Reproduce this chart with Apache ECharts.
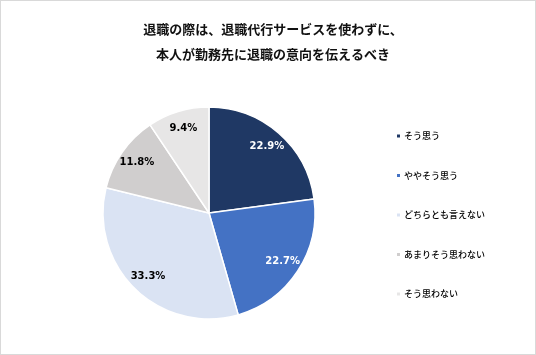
<!DOCTYPE html>
<html><head><meta charset="utf-8">
<script src="https://cdn.jsdelivr.net/npm/echarts@6/dist/echarts.min.js"></script>
<style>html,body{margin:0;padding:0;background:#fff}#c{width:536px;height:355px;box-sizing:border-box;border:1px solid #d9d9d9}</style>
</head><body><div id="c"></div>
<script>
const titleText = '退職の際は、退職代行サービスを使わずに、\n本人が勤務先に退職の意向を伝えるべき';
const categories = ['そう思う', 'ややそう思う', 'どちらとも言えない', 'あまりそう思わない', 'そう思わない'];
const values = [22.9, 22.7, 33.3, 11.8, 9.4];
const colors = ['#1f3864', '#4472c4', '#dae3f3', '#d0cece', '#e7e6e6'];
const labelColors = ['#ffffff', '#ffffff', '#000000', '#000000', '#000000'];

const chart = echarts.init(document.getElementById('c'), null, {renderer: 'canvas'});
const mainData = categories.map((n, i) => ({name: n, value: values[i], itemStyle: {color: colors[i]}}));
const labelData = categories.map((n, i) => ({name: n, value: values[i], label: {color: labelColors[i]}}));
chart.setOption({
  animation: false,
  title: {
    text: titleText, left: 267, top: 11, textAlign: 'center',
    textStyle: {fontFamily: 'Noto Sans CJK JP', fontWeight: 'bold', fontSize: 13, lineHeight: 25, color: '#111111'}
  },
  legend: {
    orient: 'vertical', left: 394, top: 129, padding: 0, icon: 'rect', itemWidth: 5, itemHeight: 5, itemGap: 27.5,
    data: categories,
    textStyle: {fontFamily: 'Noto Sans CJK JP', fontSize: 9, fontWeight: 500, lineHeight: 12, color: '#000000', padding: [0, 0, 0, -2]}
  },
  series: [
    {
      type: 'pie', center: [208, 212], radius: [0, 106], startAngle: 90, clockwise: true,
      silent: true, label: {show: false}, labelLine: {show: false},
      itemStyle: {borderColor: '#ffffff', borderWidth: 1.5},
      data: mainData
    },
    {
      type: 'pie', center: [208, 212], radius: [64, 106], startAngle: 90, clockwise: true,
      silent: true, legendHoverLink: false,
      itemStyle: {color: 'rgba(0,0,0,0)', borderWidth: 0},
      label: {show: true, position: 'inside', formatter: p => p.value.toFixed(1) + '%',
        fontFamily: 'DejaVu Sans', fontWeight: 'bold', fontSize: 10},
      labelLine: {show: false},
      data: labelData
    }
  ]
});
</script></body></html>
